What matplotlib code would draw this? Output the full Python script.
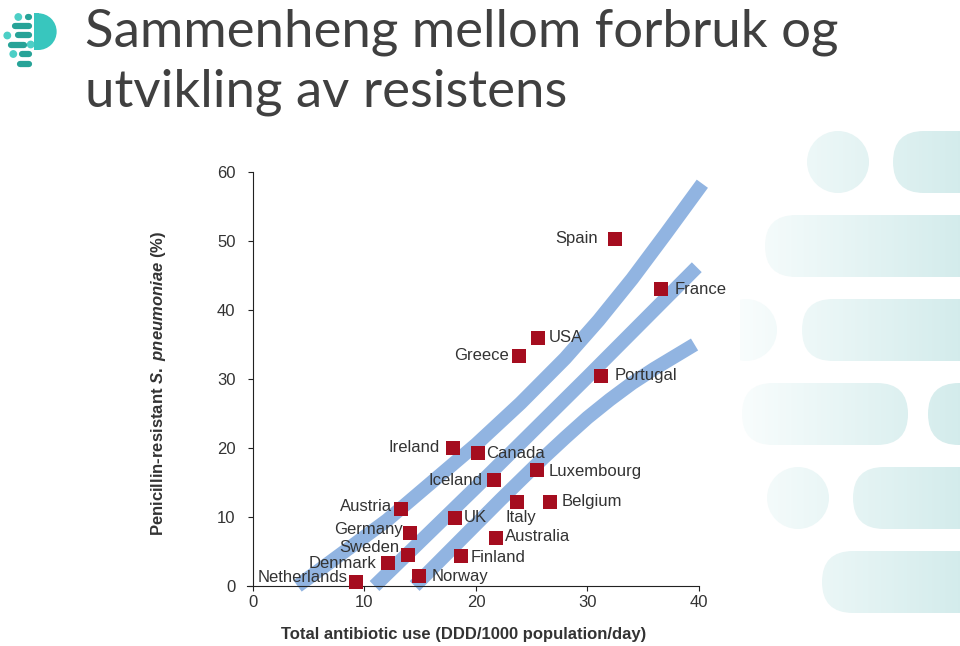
import matplotlib.pyplot as plt
from matplotlib.patches import FancyBboxPatch, Circle, Wedge
import numpy as np

plt.rcParams['font.family'] = ['Liberation Sans', 'DejaVu Sans']
plt.rcParams['mathtext.fontset'] = 'custom'
plt.rcParams['mathtext.it'] = 'Liberation Sans:italic:bold'
plt.rcParams['mathtext.rm'] = 'Liberation Sans:bold'

title_lines = ["Sammenheng mellom forbruk og", "utvikling av resistens"]

countries = ["Netherlands", "Denmark", "Sweden", "Germany", "Austria", "Norway",
             "Finland", "UK", "Ireland", "Canada", "Iceland", "Australia", "Italy",
             "Belgium", "Luxembourg", "Greece", "USA", "Portugal", "Spain", "France"]
use = [9.2, 12.1, 13.9, 14.1, 13.3, 14.9, 18.7, 18.1, 17.9, 20.2, 21.6, 21.8,
       23.7, 26.6, 25.5, 23.9, 25.6, 31.2, 32.5, 36.6]
resistant = [0.6, 3.3, 4.5, 7.7, 11.2, 1.4, 4.3, 9.9, 20.0, 19.3, 15.4, 7.0,
             12.2, 12.2, 16.8, 33.3, 35.9, 30.4, 50.3, 43.0]

# trend bands
band_hi_x = [4.0, 12.0, 20.0, 24.0, 28.0, 31.0, 34.0, 37.0, 40.3]
band_hi_y = [0.0, 9.5, 20.5, 26.5, 33.0, 38.5, 44.5, 51.0, 58.3]
band_mid_x = [10.9, 20.0, 30.0, 39.8]
band_mid_y = [0.0, 14.3, 30.3, 46.2]
band_lo_x = [14.5, 22.2, 26.0, 28.0, 30.0, 32.0, 34.0, 36.0, 39.6]
band_lo_y = [0.0, 12.5, 18.5, 21.5, 24.4, 27.0, 29.4, 31.5, 35.0]

# label offsets in pixels (dx, dy, ha)
offsets = {
    "Netherlands": (-8, 4, 'right'), "Denmark": (-12, 0, 'right'),
    "Sweden": (-9, 7, 'right'), "Germany": (-7, 3, 'right'),
    "Austria": (-9, 2, 'right'), "Ireland": (-13, 1, 'right'),
    "Iceland": (-11, -1, 'right'), "Greece": (-11, 1, 'right'),
    "Spain": (-17, 0, 'right'),
    "Norway": (13, 0, 'left'), "Finland": (9, -1, 'left'), "UK": (9, 0, 'left'),
    "Canada": (8, -1, 'left'), "Australia": (9, 1, 'left'),
    "Luxembourg": (11, -1, 'left'), "Belgium": (12, 0, 'left'),
    "Portugal": (14, 1, 'left'), "France": (14, 0, 'left'), "USA": (10, 1, 'left'),
    "Italy": (4, -16, 'center'),
}

W, H = 960, 646
fig = plt.figure(figsize=(W / 100, H / 100), dpi=100)

# background layer in pixel coordinates
bg = fig.add_axes([0, 0, 1, 1], zorder=-1)
bg.set_xlim(0, W)
bg.set_ylim(H, 0)
bg.axis('off')

grad = np.linspace(0, 1, 256).reshape(1, -1)
c0 = np.array([0.975, 0.992, 0.992])
c1 = np.array([0.83, 0.925, 0.925])
grad_img = c0 + (c1 - c0) * grad[..., None]


def shade(patch):
    bg.add_patch(patch)
    im = bg.imshow(grad_img, extent=[740, 960, H, 0], aspect='auto',
                   interpolation='bilinear')
    im.set_clip_path(patch)


pills = [(893, 162), (765, 246), (802, 330), (853, 498), (822, 582), (928, 414)]
for x0, yc in pills:
    shade(FancyBboxPatch((x0, yc - 31), 1040 - x0, 62,
                         boxstyle="round,pad=0,rounding_size=31",
                         fc='none', ec='none'))
shade(FancyBboxPatch((742, 383), 166, 62, boxstyle="round,pad=0,rounding_size=31",
                     fc='none', ec='none'))
for cx, cy in [(838, 162), (746, 330), (798, 498)]:
    shade(Circle((cx, cy), 31, fc='none', ec='none'))

# logo
bar_c = '#27a398'
dot_c = '#4ccfc6'
d_c = '#38c6be'
bars = [(25, 32.3, 17), (12.3, 32.3, 25.7), (15, 32.3, 35.3), (8.3, 26.7, 44.7),
        (19.3, 32.3, 54), (16.7, 32.3, 63.7)]
for xa, xb, yy in bars:
    bg.plot([xa + 3, xb - 3], [yy, yy], color=bar_c, lw=4.5, solid_capstyle='round')
for cx, cy in [(18.3, 17), (7.3, 35.5), (30.7, 44.5), (13.3, 54)]:
    bg.add_patch(Circle((cx, cy), 3.2, color=dot_c))
bg.add_patch(plt.Rectangle((33.5, 13.3), 5, 36.7, color=d_c, lw=0))
bg.add_patch(Wedge((38.3, 31.65), 18.35, -90, 90, color=d_c, lw=0))

# title
for i, line in enumerate(title_lines):
    bg.text(85, 47 + 60 * i, line, fontsize=38, color='#404040',
            family=['Lato', 'DejaVu Sans'], va='baseline', ha='left')

# chart
ax = fig.add_axes([247.4 / W, (H - 586) / H, 451.6 / W, 414 / H])
ax.set_facecolor('none')
ax.set_xlim(-0.5, 40)
ax.set_ylim(0, 60)
ax.spines['left'].set_position(('data', 0))
ax.spines['top'].set_visible(False)
ax.spines['right'].set_visible(False)
for s in ('left', 'bottom'):
    ax.spines[s].set_linewidth(0.8)
    ax.spines[s].set_color('#222222')

band_c = '#91b4e1'
for bx, by in [(band_hi_x, band_hi_y), (band_mid_x, band_mid_y), (band_lo_x, band_lo_y)]:
    ax.plot(bx, by, color=band_c, lw=10, solid_capstyle='butt',
            solid_joinstyle='round', zorder=1, clip_on=False)

ax.scatter(use, resistant, marker='s', s=92, color='#a50d1f', lw=0, zorder=3,
           clip_on=False)

for name, xv, yv in zip(countries, use, resistant):
    dx, dy, ha = offsets[name]
    ax.annotate(name, (xv, yv), xytext=(dx, dy), textcoords='offset pixels',
                ha=ha, va='center', fontsize=12, color='#333333', zorder=4)

ax.set_xticks([0, 10, 20, 30, 40])
ax.set_yticks([0, 10, 20, 30, 40, 50, 60])
ax.tick_params(axis='both', labelsize=12, labelcolor='#333333', color='#222222',
               length=3.5, width=0.8)
ax.tick_params(axis='y', pad=9)
ax.tick_params(axis='x', pad=3)

ax.set_xlabel('Total antibiotic use (DDD/1000 population/day)', fontsize=12,
              fontweight='bold', color='#333333')
ax.xaxis.set_label_coords(0.4785, -0.098)
ax.set_ylabel(r'Penicillin-resistant $\mathit{S.}$ $\mathit{pneumoniae}$ (%)',
              fontsize=12, fontweight='bold', color='#333333')
ax.yaxis.set_label_coords(-0.176, 0.49)

fig.savefig('out.png', dpi=100)
